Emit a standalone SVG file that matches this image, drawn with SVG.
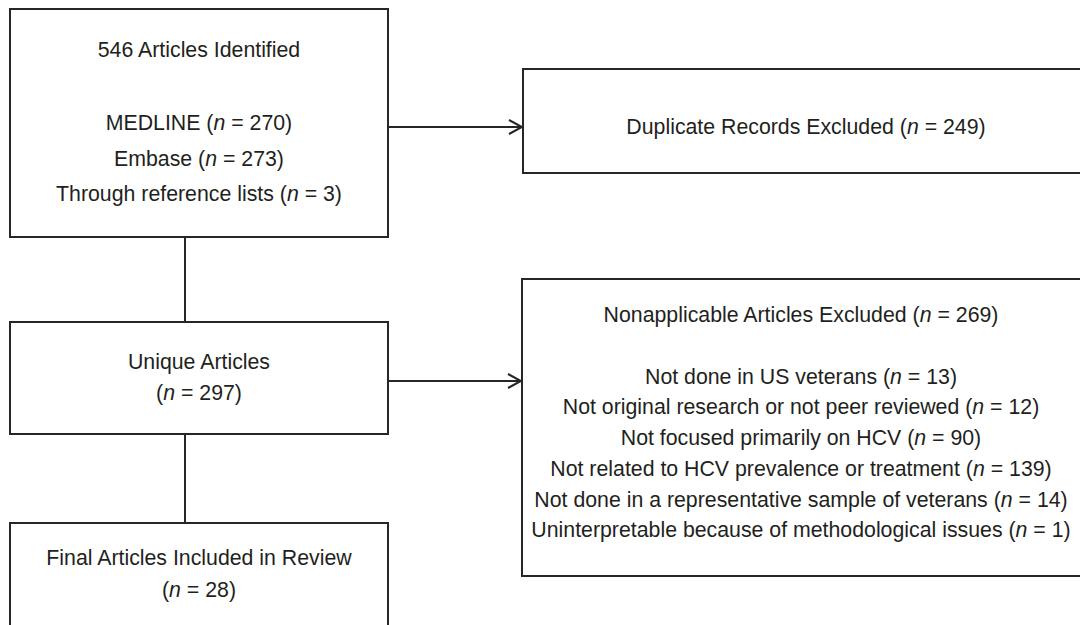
<svg xmlns="http://www.w3.org/2000/svg" width="1080" height="625" viewBox="0 0 1080 625">
<style>
.box{fill:#fff;stroke:#262626;stroke-width:2}
.ln{fill:none;stroke:#262626;stroke-width:2}
text{font-family:"Liberation Sans",Arial,sans-serif;font-size:21.3px;fill:#231f20;text-anchor:middle}
.i{font-style:italic}
</style>
<defs>
<marker id="arr" markerWidth="16" markerHeight="16" refX="14" refY="8" orient="auto" markerUnits="userSpaceOnUse">
<path d="M1,1 L14,8 L1,15" fill="none" stroke="#262626" stroke-width="2"/>
</marker>
</defs>
<rect width="1080" height="625" fill="#fff"/>
<g id="connectors">
<line class="ln" x1="388" y1="127" x2="522" y2="127" marker-end="url(#arr)"/>
<line class="ln" x1="388" y1="381" x2="521" y2="381" marker-end="url(#arr)"/>
<line class="ln" x1="185" y1="237" x2="185" y2="322"/>
<line class="ln" x1="185" y1="434" x2="185" y2="523"/>
</g>
<g id="identified">
<rect class="box" x="10" y="9" width="378" height="228"/>
<text x="199" y="57">546 Articles Identified</text>
<text x="199" y="130">MEDLINE (<tspan class="i">n</tspan> = 270)</text>
<text x="199" y="166">Embase (<tspan class="i">n</tspan> = 273)</text>
<text x="199" y="201">Through reference lists (<tspan class="i">n</tspan> = 3)</text>
</g>
<g id="duplicates">
<rect class="box" x="523" y="69" width="562" height="104"/>
<text x="806" y="134">Duplicate Records Excluded (<tspan class="i">n</tspan> = 249)</text>
</g>
<g id="unique">
<rect class="box" x="10" y="322" width="378" height="112"/>
<text x="199" y="369">Unique Articles</text>
<text x="199" y="400">(<tspan class="i">n</tspan> = 297)</text>
</g>
<g id="nonapplicable">
<rect class="box" x="522" y="279" width="563" height="297"/>
<text x="801" y="322">Nonapplicable Articles Excluded (<tspan class="i">n</tspan> = 269)</text>
<text x="801" y="384">Not done in US veterans (<tspan class="i">n</tspan> = 13)</text>
<text x="801" y="414">Not original research or not peer reviewed (<tspan class="i">n</tspan> = 12)</text>
<text x="801" y="445">Not focused primarily on HCV (<tspan class="i">n</tspan> = 90)</text>
<text x="801" y="476">Not related to HCV prevalence or treatment (<tspan class="i">n</tspan> = 139)</text>
<text x="801" y="507">Not done in a representative sample of veterans (<tspan class="i">n</tspan> = 14)</text>
<text x="801" y="537">Uninterpretable because of methodological issues (<tspan class="i">n</tspan> = 1)</text>
</g>
<g id="final">
<rect class="box" x="10" y="523" width="378" height="110"/>
<text x="199" y="565">Final Articles Included in Review</text>
<text x="199" y="597">(<tspan class="i">n</tspan> = 28)</text>
</g>
</svg>
